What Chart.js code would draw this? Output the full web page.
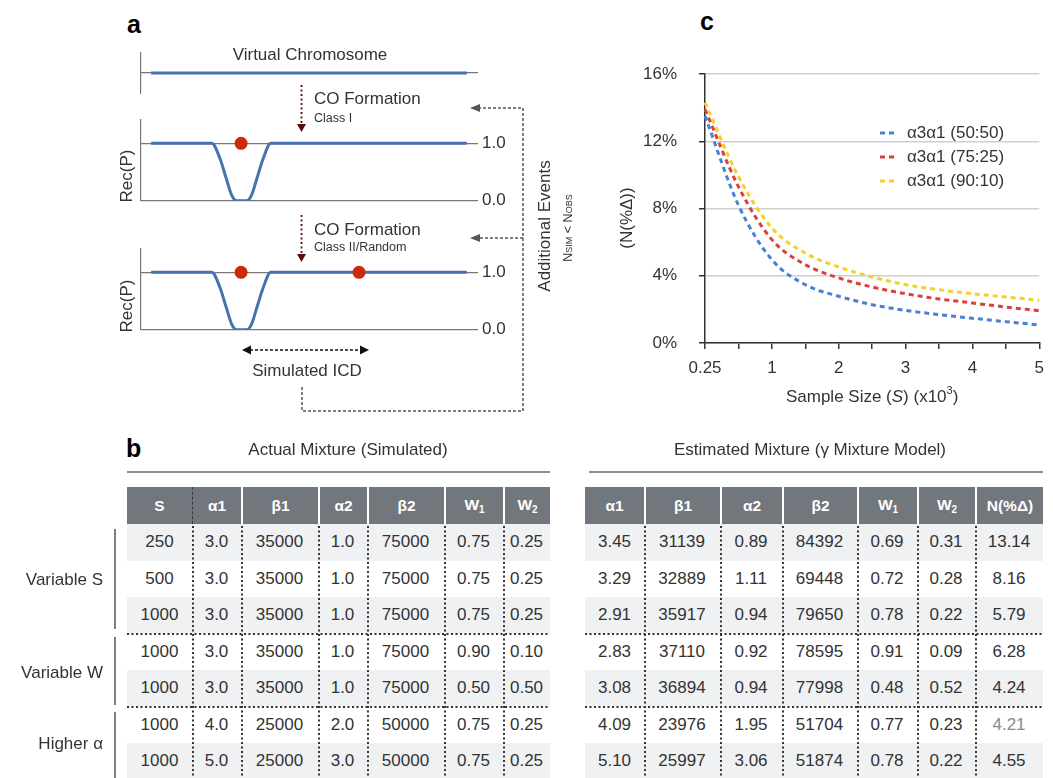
<!DOCTYPE html>
<html>
<head>
<meta charset="utf-8">
<script src="https://cdn.jsdelivr.net/npm/chart.js@4.4.0/dist/chart.umd.min.js"></script>
<style>
body{margin:0;background:#fff;font-family:"Liberation Sans",Arial,sans-serif;color:#333;}
#page{position:relative;width:1053px;height:778px;overflow:hidden;background:#fff;}
.abs{position:absolute;}
.t{position:absolute;white-space:nowrap;font-size:17px;line-height:20px;transform:translate(-50%,-50%);}
.tl{position:absolute;white-space:nowrap;font-size:17px;line-height:20px;transform:translate(0,-50%);}
.tr{position:absolute;white-space:nowrap;font-size:17px;line-height:20px;transform:translate(-100%,-50%);}
.small{font-size:12.5px;line-height:14px;}
.rot{transform:translate(-50%,-50%) rotate(-90deg);}
.letter{position:absolute;font-weight:bold;font-size:25px;color:#000;line-height:25px;}
.th,.td{position:absolute;box-sizing:border-box;display:flex;align-items:center;justify-content:center;}
.th{background:#72767d;color:#fff;font-weight:bold;font-size:15.5px;}
.td{font-size:17px;color:#333;}
.th sub{font-size:10px;vertical-align:-3px;}
#seps{z-index:2;}
</style>
</head>
<body>
<div id="page">
  <div class="letter" style="left:127px;top:12px;">a</div>
  <div class="letter" style="left:126px;top:436px;">b</div>
  <div class="letter" style="left:700px;top:9px;">c</div>

  <!-- panel a -->
  <div class="abs" style="left:110px;top:42px;width:420px;height:62px;"><canvas id="chrom" width="420" height="62"></canvas></div>
  <div class="abs" style="left:110px;top:105px;width:420px;height:110px;"><canvas id="rec1" width="420" height="110"></canvas></div>
  <div class="abs" style="left:110px;top:234px;width:420px;height:110px;"><canvas id="rec2" width="420" height="110"></canvas></div>

  <svg class="abs" style="left:0;top:0;" width="1053" height="778">
    <line x1="301.5" y1="85" x2="301.5" y2="124" stroke="#5a0c0c" stroke-width="1.8" stroke-dasharray="2 2.5"/>
    <polygon points="297,124 306,124 301.5,132" fill="#5a0c0c"/>
    <line x1="301.5" y1="215" x2="301.5" y2="254" stroke="#5a0c0c" stroke-width="1.8" stroke-dasharray="2 2.5"/>
    <polygon points="297,254 306,254 301.5,262" fill="#5a0c0c"/>
    <polyline points="302,387 302,411 523,411 523,108 479,108" fill="none" stroke="#555" stroke-width="1.5" stroke-dasharray="3 2"/>
    <polygon points="470,108 480,104 480,112" fill="#555"/>
    <line x1="523" y1="238" x2="479" y2="238" stroke="#555" stroke-width="1.5" stroke-dasharray="3 2"/>
    <polygon points="470,238 480,234 480,242" fill="#555"/>
    <line x1="250" y1="350" x2="361" y2="350" stroke="#111" stroke-width="1.5" stroke-dasharray="3 2"/>
    <polygon points="242,350 251,345.5 251,354.5" fill="#111"/>
    <polygon points="369,350 360,345.5 360,354.5" fill="#111"/>
    <line x1="127" y1="472" x2="550" y2="472" stroke="#666" stroke-width="1.5"/>
    <line x1="589" y1="472" x2="1043" y2="472" stroke="#666" stroke-width="1.5"/>
    <line x1="115" y1="529" x2="115" y2="629" stroke="#555" stroke-width="1.5"/>
    <line x1="115" y1="637" x2="115" y2="705" stroke="#555" stroke-width="1.5"/>
    <line x1="115" y1="712" x2="115" y2="778" stroke="#555" stroke-width="1.5"/>
  </svg>

  <div class="t" style="left:310px;top:55px;">Virtual Chromosome</div>
  <div class="tl" style="left:314px;top:99px;">CO Formation</div>
  <div class="tl small" style="left:314px;top:118px;">Class I</div>
  <div class="tl" style="left:314px;top:230px;">CO Formation</div>
  <div class="tl small" style="left:314px;top:247px;">Class II/Random</div>
  <div class="t rot" style="left:127px;top:176px;">Rec(P)</div>
  <div class="t rot" style="left:127px;top:306px;">Rec(P)</div>
  <div class="t" style="left:307px;top:371px;">Simulated ICD</div>
  <div class="t rot" style="left:545px;top:226px;">Additional Events</div>
  <div class="t rot small" style="left:568px;top:228px;">N<span style="font-size:9px">SIM</span> &lt; N<span style="font-size:9px">OBS</span></div>

  <!-- panel b -->
  <div class="t" style="left:348px;top:450px;">Actual Mixture (Simulated)</div>
  <div class="t" style="left:810px;top:450px;">Estimated Mixture (γ Mixture Model)</div>
  <div class="tr" style="left:103px;top:580px;">Variable S</div>
  <div class="tr" style="left:103px;top:673px;">Variable W</div>
  <div class="tr" style="left:103px;top:744px;">Higher α</div>
  <div id="tables"></div>
  <svg id="seps" class="abs" style="left:0;top:0;" width="1053" height="778"></svg>

  <!-- panel c -->
  <div class="abs" style="left:600px;top:40px;width:453px;height:380px;"><canvas id="chartC" width="453" height="380"></canvas></div>
</div>

<script>
// panel c data
var sizeLabels = ['0.25','0.5','1','1.5','2','2.5','3','3.5','4','4.5','5'];
var shownLabels = ['0.25','1','2','3','4','5'];
var seriesNames = ['α3α1 (50:50)','α3α1 (75:25)','α3α1 (90:10)'];
var err5050 = [13.5, 8.2, 4.96, 3.47, 2.78, 2.28, 1.94, 1.69, 1.47, 1.27, 1.07];
var err7525 = [13.9, 9.3, 6.15, 4.66, 3.87, 3.33, 2.93, 2.62, 2.38, 2.14, 1.92];
var err9010 = [14.3, 9.9, 6.84, 5.35, 4.52, 3.93, 3.47, 3.17, 2.93, 2.74, 2.54];
var seriesColors = ['#4a80d4','#d8423a','#f6cf2a'];
var yTicks = [0, 4, 8, 12, 16];

// panel a data (position along chromosome 0-100, recombination probability)
var chromSpan = [3, 96.7];
var recX = [3, 21, 23.4, 25.4, 26.9, 28.4, 31.4, 32.8, 34.3, 36.3, 38.5, 96.7];
var recY = [1, 1, 0.74, 0.37, 0.1, 0, 0, 0.1, 0.37, 0.74, 1, 1];
var coClassI = [29.7];
var coClassII = [29.7, 64.7];

// panel b data
var actualCols = ['S','α1','β1','α2','β2','W<sub>1</sub>','W<sub>2</sub>'];
var actualRows = [
  ['250','3.0','35000','1.0','75000','0.75','0.25'],
  ['500','3.0','35000','1.0','75000','0.75','0.25'],
  ['1000','3.0','35000','1.0','75000','0.75','0.25'],
  ['1000','3.0','35000','1.0','75000','0.90','0.10'],
  ['1000','3.0','35000','1.0','75000','0.50','0.50'],
  ['1000','4.0','25000','2.0','50000','0.75','0.25'],
  ['1000','5.0','25000','3.0','50000','0.75','0.25']
];
var estCols = ['α1','β1','α2','β2','W<sub>1</sub>','W<sub>2</sub>','N(%Δ)'];
var estRows = [
  ['3.45','31139','0.89','84392','0.69','0.31','13.14'],
  ['3.29','32889','1.11','69448','0.72','0.28','8.16'],
  ['2.91','35917','0.94','79650','0.78','0.22','5.79'],
  ['2.83','37110','0.92','78595','0.91','0.09','6.28'],
  ['3.08','36894','0.94','77998','0.48','0.52','4.24'],
  ['4.09','23976','1.95','51704','0.77','0.23','4.21'],
  ['5.10','25997','3.06','51874','0.78','0.22','4.55']
];
var groupStarts = [3, 5];
var fadedCell = '5,6';

var FONT = '"Liberation Sans", Arial, sans-serif';
Chart.defaults.font.family = FONT;
Chart.defaults.color = '#333';

// tables
var HEAD_TOP = 487, HEAD_H = 37, ROW_H = 36.5;
function svgLine(x1, y1, x2, y2) {
    var l = document.createElementNS('http://www.w3.org/2000/svg', 'line');
    l.setAttribute('x1', x1); l.setAttribute('y1', y1);
    l.setAttribute('x2', x2); l.setAttribute('y2', y2);
    l.setAttribute('stroke', '#333');
    l.setAttribute('stroke-width', '2');
    l.setAttribute('stroke-dasharray', '2 2.5');
    document.getElementById('seps').appendChild(l);
}
function buildTable(left, widths, cols, rows, dashedFirst, faded) {
    var box = document.getElementById('tables');
    var bodyTop = HEAD_TOP + HEAD_H;
    var x = left;
    for (var c = 0; c < cols.length; c++) {
        var h = document.createElement('div');
        h.className = 'th';
        h.style.left = x + 'px';
        h.style.top = HEAD_TOP + 'px';
        h.style.width = widths[c] + 'px';
        h.style.height = HEAD_H + 'px';
        if (c > 0) h.style.borderLeft = (c == 1 && dashedFirst) ? '1.5px dashed #3a3a3a' : '2px solid #fff';
        h.innerHTML = '<span>' + cols[c] + '</span>';
        box.appendChild(h);
        for (var r = 0; r < rows.length; r++) {
            var d = document.createElement('div');
            d.className = 'td';
            d.style.left = x + 'px';
            d.style.top = (bodyTop + r * ROW_H) + 'px';
            d.style.width = widths[c] + 'px';
            d.style.height = ROW_H + 'px';
            d.style.background = (r % 2 == 0) ? '#f0f1f3' : '#fff';
            if (faded && faded == r + ',' + c) d.style.color = '#8a8a8a';
            d.textContent = rows[r][c];
            box.appendChild(d);
        }
        if (c > 0) svgLine(x + 1, bodyTop + 2, x + 1, 778);
        x += widths[c];
    }
    groupStarts.forEach(function(r) {
        var y = Math.round(bodyTop + r * ROW_H);
        svgLine(left, y, x, y);
    });
}
buildTable(127, [65, 49, 77, 49, 77, 59, 47], actualCols, actualRows, true, null);
buildTable(585, [59, 76, 62, 75, 60, 58, 68], estCols, estRows, false, fadedCell);

// panel a: small charts
function smallChart(id, yMin, yMax, gridVals, datasets, padBottom) {
    return new Chart(document.getElementById(id), {
        type: 'line',
        data: { datasets: datasets },
        options: {
            animation: false, responsive: false, events: [],
            plugins: { legend: { display: false }, tooltip: { enabled: false } },
            layout: { padding: { top: 11, bottom: padBottom } },
            scales: {
                x: { type: 'linear', min: 0, max: 100, display: false },
                y: {
                    position: 'right', min: yMin, max: yMax,
                    afterBuildTicks: function(s) { s.ticks = gridVals.map(function(v) { return { value: v }; }); },
                    border: { display: false },
                    grid: { color: '#777', lineWidth: 1.2, drawTicks: false },
                    ticks: { padding: 4, font: { size: 17 }, color: '#333', display: id != 'chrom',
                             callback: function(v) { return v.toFixed(1); } },
                    afterFit: function(s) { s.width = 52; }
                },
                y2: {
                    position: 'left', min: yMin, max: yMax,
                    grid: { display: false }, ticks: { display: false },
                    border: { color: '#777', width: 1.2 },
                    afterFit: function(s) { s.width = 31; }
                }
            }
        }
    });
}
function recDatasets(dots) {
    return [
        { data: dots.map(function(x) { return { x: x, y: 1 }; }), showLine: false,
          pointRadius: 6.5, pointBackgroundColor: '#cc2a0a', pointBorderWidth: 0 },
        { data: recX.map(function(x, i) { return { x: x, y: recY[i] }; }),
          borderColor: '#4672b0', borderWidth: 3, pointRadius: 0, cubicInterpolationMode: 'monotone' }
    ];
}
smallChart('chrom', -1, 1, [0], [
    { data: chromSpan.map(function(x) { return { x: x, y: 0 }; }), borderColor: '#4672b0', borderWidth: 3, pointRadius: 0 }
], 11);
smallChart('rec1', 0, 1.42, [0, 1], recDatasets(coClassI), 8.3);
smallChart('rec2', 0, 1.42, [0, 1], recDatasets(coClassII), 8.3);

// panel c
var legendPlugin = {
    id: 'insideLegend',
    afterDraw: function(chart) {
        var ctx = chart.ctx;
        ctx.save();
        ctx.font = '17px ' + FONT;
        ctx.textBaseline = 'middle';
        ctx.fillStyle = '#333';
        chart.data.datasets.forEach(function(ds, i) {
            var y = 93 + i * 24;
            ctx.strokeStyle = ds.borderColor;
            ctx.lineWidth = 3;
            ctx.setLineDash([5, 4]);
            ctx.beginPath();
            ctx.moveTo(280, y);
            ctx.lineTo(298, y);
            ctx.stroke();
            ctx.setLineDash([]);
            ctx.fillText(ds.label, 307, y);
        });
        // y axis title
        ctx.save();
        ctx.translate(27, 178);
        ctx.rotate(-Math.PI / 2);
        ctx.textAlign = 'center';
        ctx.fillText('(N(%Δ))', 0, 0);
        ctx.restore();
        // x axis title with italic S and superscript
        var parts = [['Sample Size (', '17px', 0], ['S', 'italic 17px', 0], [') (x10', '17px', 0], ['3', '11px', -6], [')', '17px', 0]];
        var total = 0;
        parts.forEach(function(p) { ctx.font = p[1] + ' ' + FONT; total += ctx.measureText(p[0]).width; });
        var x = (chart.chartArea.left + chart.chartArea.right) / 2 - total / 2;
        parts.forEach(function(p) {
            ctx.font = p[1] + ' ' + FONT;
            ctx.fillText(p[0], x, 357 + p[2]);
            x += ctx.measureText(p[0]).width;
        });
        ctx.restore();
    }
};

new Chart(document.getElementById('chartC'), {
    type: 'line',
    data: {
        labels: sizeLabels,
        datasets: [err5050, err7525, err9010].map(function(vals, i) {
            return {
                label: seriesNames[i], data: vals,
                borderColor: seriesColors[i], borderWidth: 3, borderDash: [5, 4],
                pointRadius: 0, cubicInterpolationMode: 'monotone', fill: false
            };
        })
    },
    options: {
        animation: false, responsive: false, events: [],
        layout: { padding: { top: 34, right: 6 } },
        plugins: { legend: { display: false }, tooltip: { enabled: false } },
        scales: {
            x: {
                offset: false,
                grid: { drawOnChartArea: false, drawTicks: true, tickLength: 6, color: '#333', lineWidth: 1.5 },
                border: { color: '#333', width: 1.5 },
                ticks: {
                    autoSkip: false, maxRotation: 0, padding: 9, font: { size: 17 }, color: '#333',
                    callback: function(v, i) { var l = sizeLabels[i]; return shownLabels.indexOf(l) >= 0 ? l : ''; }
                },
                afterFit: function(s) { s.height = 77; }
            },
            y: {
                min: 0, max: 16,
                afterBuildTicks: function(s) { s.ticks = yTicks.map(function(v) { return { value: v }; }); },
                grid: { color: '#cfcfcf', lineWidth: 1.5, tickLength: 6, tickColor: '#333' },
                border: { color: '#333', width: 1.5 },
                ticks: { padding: 22, font: { size: 17 }, color: '#333', callback: function(v) { return v + '%'; } },
                afterFit: function(s) { s.width = 105; }
            }
        }
    },
    plugins: [legendPlugin]
});
</script>
</body>
</html>
